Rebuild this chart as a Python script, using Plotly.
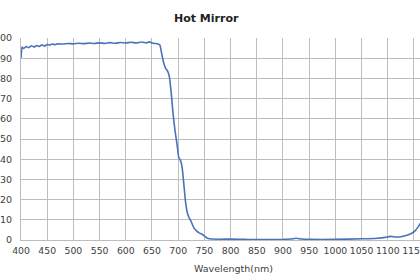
import plotly.graph_objects as go

wavelength = [400, 402, 405, 410, 415, 420, 425, 430, 435, 440, 445, 450, 455, 460, 465, 470,
              480, 490, 500, 510, 520, 530, 540, 550, 560, 570, 580, 590, 600, 610, 620, 630,
              640, 645, 650, 655, 660, 665, 668, 672, 676, 680, 683, 687, 690, 694, 698, 701,
              705, 708, 711, 714, 717, 720, 725, 730, 735, 740, 745, 750, 755, 760, 780, 800,
              830, 900, 915, 925, 935, 950, 1000, 1050, 1080, 1095, 1105, 1115, 1125, 1135,
              1145, 1152, 1158, 1163]
transmission = [90.0, 95.5, 94.8, 95.8, 95.2, 96.2, 95.5, 96.3, 95.8, 96.6, 96.0, 96.8, 96.5, 97.0, 96.7, 97.1,
                97.0, 97.3, 97.1, 97.4, 97.2, 97.5, 97.3, 97.6, 97.3, 97.7, 97.4, 97.8, 97.5, 97.9, 97.5, 98.0,
                97.6, 98.1, 97.5, 97.3, 97.2, 96.5, 93.0, 88.0, 85.0, 83.5, 81.0, 72.0, 63.0, 54.0, 47.0, 41.0,
                39.0, 35.0, 27.0, 19.0, 14.0, 11.5, 9.0, 6.0, 4.5, 3.5, 3.0, 2.0, 1.0, 0.6, 0.4, 0.5,
                0.3, 0.3, 0.5, 0.9, 0.5, 0.3, 0.3, 0.6, 0.9, 1.3, 1.8, 1.5, 1.6, 2.2,
                3.2, 4.5, 6.5, 8.5]

title_text = "Hot Mirror"
x_title = "Wavelength(nm)"

fig = go.Figure()
fig.add_trace(go.Scatter(x=wavelength, y=transmission, mode="lines",
                         line=dict(color="#4a72b8", width=1.6, shape="spline", smoothing=0.4),
                         showlegend=False, hoverinfo="skip"))

grid = "#bdbdbd"
fig.update_layout(
    width=420, height=280,
    margin=dict(l=21, r=0, t=38, b=40, autoexpand=False),
    paper_bgcolor="white", plot_bgcolor="white",
    font=dict(family="DejaVu Sans", size=9.5, color="#404040"),
    xaxis=dict(range=[400, 1161.5], dtick=50, tick0=400, showgrid=True, gridcolor=grid, gridwidth=1,
               showline=True, linecolor=grid, linewidth=1, zeroline=False, ticks="",
               ticklabelstandoff=2, tickangle=0, automargin=False, ticklabeloverflow="allow",
               tickfont=dict(family="DejaVu Sans", size=9.3, color="#404040")),
    yaxis=dict(range=[0, 100], dtick=10, showgrid=True, gridcolor=grid, gridwidth=1,
               showline=True, linecolor=grid, linewidth=1, zeroline=False, ticks="",
               ticklabelstandoff=6, automargin=False, ticklabeloverflow="allow"),
    annotations=[
        dict(text="<b>" + title_text + "</b>", xref="paper", yref="paper", x=(206.5 - 21) / 399,
             y=1, yshift=20, showarrow=False, xanchor="center", yanchor="middle",
             font=dict(family="DejaVu Sans", size=11, color="#222222")),
        dict(text=x_title, xref="paper", yref="paper", x=(233 - 21) / 399, y=0, yshift=-28,
             showarrow=False, xanchor="center", yanchor="middle",
             font=dict(family="DejaVu Sans", size=9.5, color="#404040")),
    ],
)

fig.write_html("out.html")
